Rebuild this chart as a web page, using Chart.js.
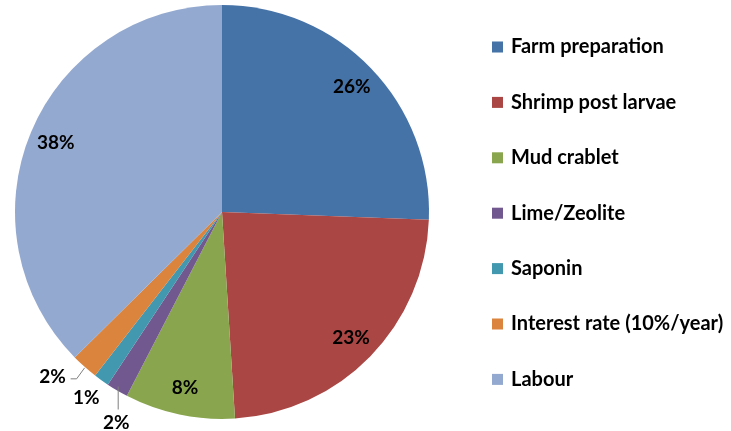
<!DOCTYPE html>
<html>
<head>
<meta charset="utf-8">
<script src="https://cdn.jsdelivr.net/npm/chart.js@4"></script>
<style>
html,body{margin:0;padding:0;background:#fff;}
#wrap{width:731px;height:431px;position:relative;}
</style>
</head>
<body>
<div id="wrap"><canvas id="c" width="731" height="431"></canvas></div>
<script>
const categories = ["Farm preparation","Shrimp post larvae","Mud crablet","Lime/Zeolite","Saponin","Interest rate (10%/year)","Labour"];
const values = [25.6, 23.4, 8.6, 1.7, 1.2, 2.1, 37.4];
const pctLabels = ["26%","23%","8%","2%","1%","2%","38%"];
const colors = ["#4572A7","#AA4643","#89A54E","#71588F","#4198AF","#DB843D","#93A9CF"];

const FONT = 'bold 19px Lato, "Open Sans", sans-serif';
const LEGEND_FONT = 'bold 20px Lato, "Open Sans", sans-serif';

const labelPlugin = {
  id: 'labelsAndLegend',
  afterDraw(chart) {
    const ctx = chart.ctx;
    const meta = chart.getDatasetMeta(0);
    ctx.save();
    ctx.fillStyle = '#000';
    ctx.font = FONT;
    ctx.textAlign = 'center';
    ctx.textBaseline = 'middle';
    meta.data.forEach((arc, i) => {
      const mid = (arc.startAngle + arc.endAngle) / 2;
      const cx = arc.x, cy = arc.y, r = arc.outerRadius;
      if (values[i] >= 5) {
        const d = r * 0.87;
        ctx.fillText(pctLabels[i], cx + Math.cos(mid) * d, cy + Math.sin(mid) * d);
      } else {
        const ex = cx + Math.cos(mid) * r, ey = cy + Math.sin(mid) * r;
        ctx.strokeStyle = '#7f7f7f';
        ctx.lineWidth = 1;
        if (i === 3) {
          ctx.beginPath();
          ctx.moveTo(ex + 1, ey - 4);
          ctx.lineTo(ex + 1, ey + 19);
          ctx.stroke();
          ctx.fillText(pctLabels[i], ex - 1, ey + 32);
        } else if (i === 4) {
          ctx.fillText(pctLabels[i], ex - 15, ey + 18);
        } else if (i === 5) {
          ctx.beginPath();
          ctx.moveTo(ex, ey + 1);
          ctx.lineTo(ex - 8, ey + 12);
          ctx.lineTo(ex - 14, ey + 12);
          ctx.stroke();
          ctx.fillText(pctLabels[i], ex - 32, ey + 10);
        }
      }
    });
    ctx.font = LEGEND_FONT;
    ctx.textAlign = 'left';
    ctx.textBaseline = 'middle';
    categories.forEach((c, i) => {
      const y = 47 + i * 55.4;
      ctx.fillStyle = colors[i];
      ctx.fillRect(492, y - 5.5, 11, 11);
      ctx.fillStyle = '#000';
      ctx.fillText(c, 511, y);
    });
    ctx.restore();
  }
};

new Chart(document.getElementById('c'), {
  type: 'pie',
  data: {
    labels: categories,
    datasets: [{
      data: values,
      backgroundColor: colors,
      borderWidth: 0
    }]
  },
  options: {
    responsive: false,
    animation: false,
    layout: { padding: { left: 14, right: 301, top: 5, bottom: 12 } },
    plugins: { legend: { display: false }, tooltip: { enabled: false } }
  },
  plugins: [labelPlugin]
});
</script>
</body>
</html>
